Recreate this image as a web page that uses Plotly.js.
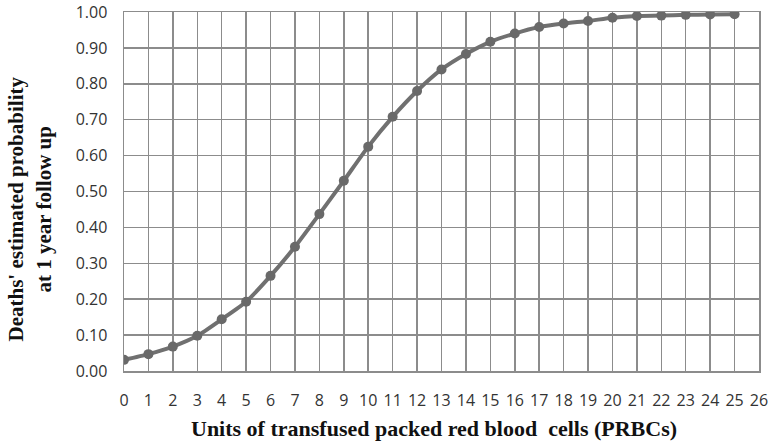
<!DOCTYPE html>
<html>
<head>
<meta charset="utf-8">
<script src="https://cdn.plot.ly/plotly-3.0.1.min.js"></script>
<style>
  html, body { margin: 0; padding: 0; background: #fff; }
  #chart { width: 771px; height: 444px; }
</style>
</head>
<body>
<div id="chart"></div>
<script>
// Unidades transfundidas y probabilidad estimada de muerte a 1 año
const unidades = [0, 1, 2, 3, 4, 5, 6, 7, 8, 9, 10, 11, 12, 13, 14, 15, 16, 17, 18, 19, 20, 21, 22, 23, 24, 25];
const probabilidad = [0.031, 0.047, 0.068, 0.098, 0.144, 0.193, 0.265, 0.346, 0.437, 0.53, 0.625, 0.708, 0.78, 0.84,
    0.883, 0.917, 0.94, 0.958, 0.968, 0.975, 0.984, 0.989, 0.99, 0.992, 0.993, 0.994];

const xTicks = [];
for (let i = 0; i <= 26; i++) xTicks.push(i);
const yTicks = [0, 0.1, 0.2, 0.3, 0.4, 0.5, 0.6, 0.7, 0.8, 0.9, 1.0];

const CHART = document.getElementById('chart');

const data = [{
    x: unidades,
    y: probabilidad,
    type: 'scatter',
    mode: 'lines+markers',
    line: { color: '#707070', width: 4, shape: 'spline', smoothing: 0.6 },
    marker: { color: '#696969', size: 10 },
    hoverinfo: 'x+y'
}];

const tituloFont = { family: 'Liberation Serif, Times New Roman, serif', size: 22, color: '#111' };

const layout = {
    width: 771,
    height: 444,
    margin: { l: 124, r: 12, t: 12, b: 73 },
    paper_bgcolor: '#fff',
    plot_bgcolor: '#fff',
    showlegend: false,
    font: { family: 'Open Sans, DejaVu Sans, sans-serif', size: 16, color: '#333' },
    xaxis: {
        range: [0, 26],
        tickvals: xTicks,
        ticktext: xTicks.map(String),
        showgrid: true,
        gridcolor: '#8c8c8c',
        gridwidth: 1.5,
        zeroline: false,
        showline: true,
        linecolor: '#8c8c8c',
        linewidth: 1.5,
        mirror: true,
        ticks: '',
        ticklabelstandoff: 14,
        fixedrange: true
    },
    yaxis: {
        range: [0, 1],
        tickvals: yTicks,
        ticktext: yTicks.map(v => v.toFixed(2)),
        showgrid: true,
        gridcolor: '#8c8c8c',
        gridwidth: 1.5,
        zeroline: false,
        showline: true,
        linecolor: '#8c8c8c',
        linewidth: 1.5,
        mirror: true,
        ticks: '',
        ticklabelstandoff: 12,
        fixedrange: true
    },
    annotations: [
        {
            text: "<b>Deaths' estimated probability<br>at 1 year follow up</b>",
            xref: 'paper', yref: 'paper',
            x: -0.149, y: 0.451,
            xanchor: 'center', yanchor: 'middle',
            textangle: -90,
            showarrow: false,
            font: { family: tituloFont.family, size: 21, color: tituloFont.color }
        },
        {
            text: '<b>Units of transfused packed red blood  cells (PRBCs)</b>',
            xref: 'paper', yref: 'paper',
            x: 0.488, y: -0.159,
            xanchor: 'center', yanchor: 'middle',
            showarrow: false,
            font: tituloFont
        }
    ]
};

Plotly.newPlot(CHART, data, layout, { displayModeBar: false, staticPlot: true });
</script>
</body>
</html>
